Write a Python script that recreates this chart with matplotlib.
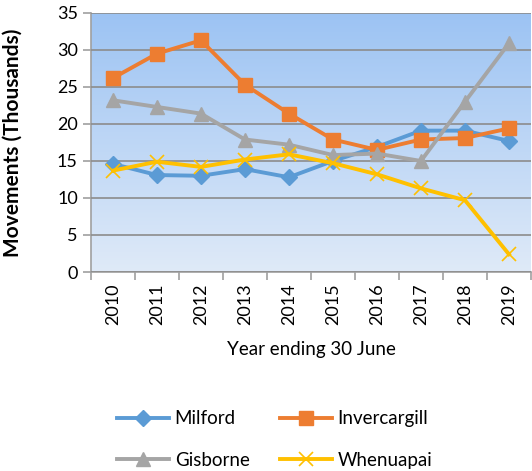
import numpy as np
import matplotlib
matplotlib.use("Agg")
import matplotlib.pyplot as plt
from matplotlib.colors import LinearSegmentedColormap

plt.rcParams['font.family'] = ['Lato', 'DejaVu Sans']

anos = ['2010', '2011', '2012', '2013', '2014', '2015', '2016', '2017', '2018', '2019']
milford = [14.6, 13.1, 13.0, 13.9, 12.8, 15.0, 16.9, 19.1, 19.1, 17.7]
invercargill = [26.2, 29.5, 31.3, 25.3, 21.4, 17.9, 16.5, 17.9, 18.1, 19.4]
gisborne = [23.2, 22.3, 21.4, 17.9, 17.2, 15.8, 16.0, 15.0, 23.0, 30.9]
whenuapai = [13.7, 14.9, 14.2, 15.2, 15.9, 14.7, 13.2, 11.3, 9.7, 2.4]

fig = plt.figure(figsize=(5.32, 4.71), dpi=100)
ax = fig.add_axes([0.171, 0.4225, 0.827, 0.55])

# fundo em degradê
grad = LinearSegmentedColormap.from_list('fundo', ['#dfeaf8', '#9cc3f3'])
ax.imshow(np.linspace(0, 1, 256).reshape(-1, 1), cmap=grad, origin='lower',
          aspect='auto', extent=[0, 1, 0, 1], transform=ax.transAxes, zorder=0)

x = np.arange(len(anos))
l1, = ax.plot(x, milford, color='#5b9bd5', lw=2.8, marker='D', ms=8, label='Milford', zorder=3)
l2, = ax.plot(x, invercargill, color='#ed7d31', lw=2.8, marker='s', ms=10, label='Invercargill', zorder=3)
l3, = ax.plot(x, gisborne, color='#a5a5a5', lw=2.8, marker='^', ms=10, label='Gisborne', zorder=3)
l4, = ax.plot(x, whenuapai, color='#ffc000', lw=2.8, marker='x', ms=10, mew=1.2, label='Whenuapai', zorder=3)

ax.set_xlim(-0.5, len(anos) - 0.5)
ax.set_ylim(0, 35)
ax.set_yticks(range(0, 36, 5))
ax.set_xticks(x)
ax.set_xticklabels(anos, rotation=90, fontsize=13)
ax.set_xticks(np.arange(-0.5, len(anos), 1), minor=True)
ax.tick_params(axis='x', which='major', length=0, pad=8)
ax.tick_params(axis='x', which='minor', length=6, color='#a0a0a0', width=1.2)
ax.tick_params(axis='y', labelsize=13, length=6, color='#a0a0a0', width=1.2)
ax.yaxis.grid(True, color='#8c8c8c', lw=1.2, zorder=1)
ax.set_axisbelow(False)
for lado in ['top', 'right']:
    ax.spines[lado].set_visible(False)
for lado in ['left', 'bottom']:
    ax.spines[lado].set_color('#a0a0a0')
    ax.spines[lado].set_linewidth(1.2)

ax.set_ylabel('Movements (Thousands)', fontsize=15, fontweight='bold')
ax.yaxis.set_label_coords(-0.155, 0.5)
ax.set_xlabel('Year ending 30 June', fontsize=13.5, labelpad=12)

# ordem: Milford, Invercargill na primeira linha
fig.legend([l1, l3, l2, l4], ['Milford', 'Gisborne', 'Invercargill', 'Whenuapai'],
           loc='upper left', bbox_to_anchor=(0.205, 0.145), ncol=2, frameon=False,
           fontsize=13.5, handlelength=2.8, handletextpad=0.3, columnspacing=1.6,
           labelspacing=1.3, borderaxespad=0)

fig.savefig('out.png', dpi=100)
